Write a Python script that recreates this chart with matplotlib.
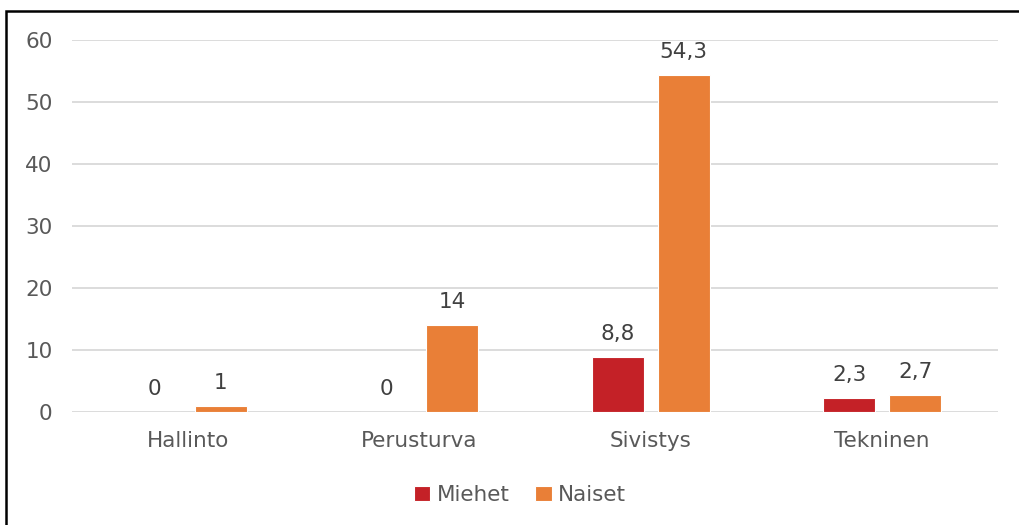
import matplotlib
matplotlib.use("Agg")
import matplotlib.pyplot as plt
from matplotlib.patches import Rectangle
import numpy as np

categories = ["Hallinto", "Perusturva", "Sivistys", "Tekninen"]
miehet = [0, 0, 8.8, 2.3]
naiset = [1, 14, 54.3, 2.7]
miehet_labels = ["0", "0", "8,8", "2,3"]
naiset_labels = ["1", "14", "54,3", "2,7"]
yticks = [0, 10, 20, 30, 40, 50, 60]

RED = "#C42127"
ORANGE = "#E97F37"
TXT = "#595959"
GRID = "#D9D9D9"

plt.rcParams['font.family'] = ['DejaVu Sans']

W, H = 1019, 525
fig = plt.figure(figsize=(W/100, H/100), dpi=100)
ax = fig.add_axes([72/W, 1-412/H, (998-72)/W, (412-40)/H])

x = np.arange(len(categories))
bw = 0.225
off = 33/231.5
b1 = ax.bar(x - off, miehet, bw, color=RED, edgecolor="white", linewidth=0.8, label="Miehet", zorder=3)
b2 = ax.bar(x + off, naiset, bw, color=ORANGE, edgecolor="white", linewidth=0.8, label="Naiset", zorder=3)

FS = 15.5
for rects, labs in ((b1, miehet_labels), (b2, naiset_labels)):
    for r, lab in zip(rects, labs):
        ax.annotate(lab, (r.get_x() + r.get_width()/2, r.get_height()),
                    xytext=(0, 9.5), textcoords="offset points", ha="center", va="bottom",
                    fontsize=FS, color="#404040")

ax.set_xlim(-0.5, len(categories) - 0.5)
ax.set_ylim(0, 60)
ax.set_yticks(yticks)
ax.set_yticklabels([str(t) for t in yticks])
ax.set_xticks(x)
ax.set_xticklabels(categories)
ax.tick_params(axis="both", length=0, labelsize=FS, labelcolor=TXT)
ax.tick_params(axis="y", pad=14)
ax.tick_params(axis="x", pad=14)
ax.yaxis.grid(True, color=GRID, linewidth=1.3, zorder=0)
ax.set_axisbelow(True)
for s in ax.spines.values():
    s.set_visible(False)

leg = fig.legend(handles=[b1, b2], labels=["Miehet", "Naiset"], loc="center",
                 bbox_to_anchor=(520/W, 1-495/H), ncol=2, frameon=False,
                 fontsize=FS, handlelength=0.75, handleheight=0.75, handletextpad=0.3,
                 columnspacing=1.2)
for t in leg.get_texts():
    t.set_color(TXT)

fig.add_artist(Rectangle((6/W, -0.1), 1.2, (1-11/H) + 0.1, transform=fig.transFigure,
                         fill=False, edgecolor="black", linewidth=1.8))

fig.savefig("out.png", dpi=100)
